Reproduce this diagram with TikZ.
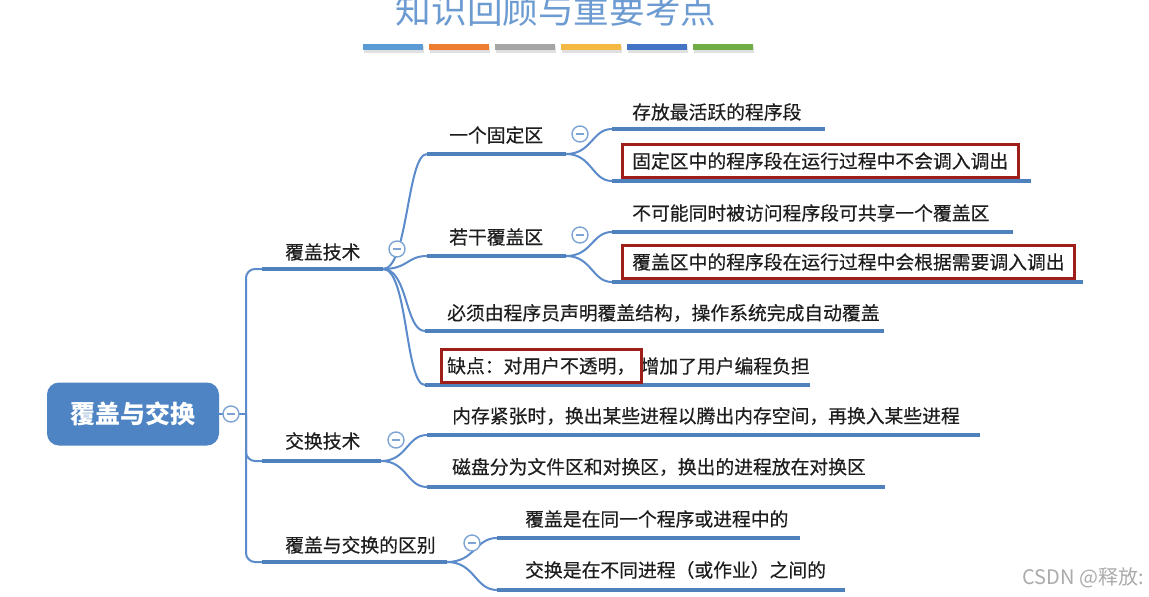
\documentclass[tikz,border=0pt]{standalone}
\usepackage{fontspec}
\newfontfamily\cjk[FakeBold=0.4]{Noto Sans CJK SC}
\newfontfamily\cjkplain{Noto Sans CJK SC}
\usetikzlibrary{fit}
\definecolor{lineblue}{HTML}{4F81BD}
\definecolor{connblue}{HTML}{5B8BCB}
\definecolor{togblue}{HTML}{7EA4D6}
\definecolor{rootblue}{HTML}{4E84C4}
\definecolor{boxred}{HTML}{A01E1A}
\definecolor{titleblue}{HTML}{6C9BD2}
\definecolor{barA}{HTML}{5B9BD5}
\definecolor{barB}{HTML}{ED7D31}
\definecolor{barC}{HTML}{A5A5A5}
\definecolor{barD}{HTML}{F4B942}
\definecolor{barE}{HTML}{4472C4}
\definecolor{barF}{HTML}{70AD47}
\definecolor{txtcol}{HTML}{1E1E1E}
\begin{document}
\begin{tikzpicture}[x=1pt,y=-1pt,
  txt/.style={font=\cjk\fontsize{18.8}{22}\selectfont, text=txtcol, anchor=west, inner sep=0pt},
  uline/.style={line width=4.5pt, draw=lineblue},
  conn/.style={line width=2pt, draw=connblue},
  toggle/.style={circle, draw=togblue, line width=1.4pt, fill=white, minimum size=16pt, inner sep=0pt,
    path picture={\draw[togblue, line width=1.4pt] ([xshift=-4pt]path picture bounding box.center) -- ([xshift=4pt]path picture bounding box.center);}},
  redbox/.style={draw=boxred, line width=3pt, inner xsep=10pt, inner ysep=7.5pt},
  root/.style={rounded corners=12pt, fill=rootblue, minimum width=172pt, minimum height=63pt, inner sep=0pt,
    text=white, font=\cjkplain\bfseries\fontsize{25}{28}\selectfont},
  bar/.style={minimum width=60pt, minimum height=6pt, inner sep=0pt}
]
\useasboundingbox (0,0) rectangle (1149,597);
\fill[white] (0,0) rectangle (1149,597);

% title
\node[font=\cjkplain\fontsize{35.6}{40}\selectfont, text=titleblue, inner sep=0pt] (title) at (556,10) {知识回顾与重要考点};
\foreach \c [count=\i from 0] in {barA,barB,barC,barD,barE,barF}{
  \fill[black!12] (363+66*\i+1,46) rectangle (363+66*\i+61,53);
  \node[bar, fill=\c] (bar\i) at (393+66*\i,47) {};
}

% root
\node[root] (r) at (133,414) {覆盖与交换};
\coordinate (sp) at (246,414);

% level-1 underline coordinates
\coordinate (a1) at (262,269); \coordinate (a1e) at (383,269);
\coordinate (a2) at (262,461); \coordinate (a2e) at (381,461);
\coordinate (a3) at (262,562); \coordinate (a3e) at (447,562);

% level-2 (under 覆盖技术)
\coordinate (b1) at (427,154); \coordinate (b1e) at (566,154);
\coordinate (b2) at (427,256); \coordinate (b2e) at (566,256);
\coordinate (b3) at (425,331); \coordinate (b3e) at (884,331);
\coordinate (b4) at (425,385); \coordinate (b4e) at (810,385);

% leaves
\coordinate (l1) at (612,129); \coordinate (l1e) at (825,129);
\coordinate (l2) at (612,181); \coordinate (l2e) at (1031,181);
\coordinate (l3) at (612,232); \coordinate (l3e) at (1013,232);
\coordinate (l4) at (612,282); \coordinate (l4e) at (1083,282);
\coordinate (x1) at (427,435); \coordinate (x1e) at (980,435);
\coordinate (x2) at (427,487); \coordinate (x2e) at (885,487);
\coordinate (y1) at (497,538); \coordinate (y1e) at (800,538);
\coordinate (y2) at (497,590); \coordinate (y2e) at (845,590);

% connectors
\draw[conn] (r.east) -- (sp);
\draw[conn, rounded corners=9pt] (a1) -| (sp) |- (a3);
\draw[conn, rounded corners=9pt] (sp) |- (a2);

\foreach \t in {b1,b2,b3,b4}
  \draw[conn] (a1e) .. controls +(25,0) and +(-20,0) .. (\t);
\foreach \t in {l1,l2}
  \draw[conn] (b1e) .. controls +(26,0) and +(-20,0) .. (\t);
\foreach \t in {l3,l4}
  \draw[conn] (b2e) .. controls +(26,0) and +(-20,0) .. (\t);
\foreach \t in {x1,x2}
  \draw[conn] (a2e) .. controls +(26,0) and +(-20,0) .. (\t);
\foreach \t in {y1,y2}
  \draw[conn] (a3e) .. controls +(28,0) and +(-22,0) .. (\t);

% underlines
\foreach \s in {a1,a2,a3,b1,b2,b3,b4,l1,l2,l3,l4,x1,x2,y1,y2}
  \draw[uline] (\s) -- (\s e);

% toggles
\node[toggle] (t0) at (231,414) {};
\node[toggle] (t1) at (397,249) {};
\node[toggle] (t2) at (396,440) {};
\node[toggle] (t3) at (472,543) {};
\node[toggle] (t4) at (580,134) {};
\node[toggle] (t5) at (580,235) {};

% texts
\node[txt] (n1) at (285,252) {覆盖技术};
\node[txt] (n2) at (285,441) {交换技术};
\node[txt] (n3) at (285,545) {覆盖与交换的区别};
\node[txt] (m1) at (449,135) {一个固定区};
\node[txt] (m2) at (449,237) {若干覆盖区};
\node[txt] (m3) at (447,313) {必须由程序员声明覆盖结构，操作系统完成自动覆盖};
\node[txt] (k1) at (447,366) {缺点：对用户不透明，};
\node[txt] (k2) at ([xshift=5pt]k1.east) {增加了用户编程负担};
\node[txt] (p1) at (632,112) {存放最活跃的程序段};
\node[txt] (p2) at (632,161) {固定区中的程序段在运行过程中不会调入调出};
\node[txt] (p3) at (632,213) {不可能同时被访问程序段可共享一个覆盖区};
\node[txt] (p4) at (632,262) {覆盖区中的程序段在运行过程中会根据需要调入调出};
\node[txt] (q1) at (452,416) {内存紧张时，换出某些进程以腾出内存空间，再换入某些进程};
\node[txt] (q2) at (452,467) {磁盘分为文件区和对换区，换出的进程放在对换区};
\node[txt] (s1) at (525,519) {覆盖是在同一个程序或进程中的};
\node[txt] (s2) at (525,570) {交换是在不同进程（或作业）之间的};

% red highlight boxes
\node[redbox, fit=(p2)] (h1) {};
\node[redbox, fit=(p4)] (h2) {};
\node[redbox, fit=(k1), inner xsep=6pt] (h3) {};

% watermark
\node[font=\cjkplain\fontsize{20}{24}\selectfont, text=black!33, anchor=east, inner sep=0pt] (wm) at (1144,578) {CSDN @释放:};
\end{tikzpicture}
\end{document}
